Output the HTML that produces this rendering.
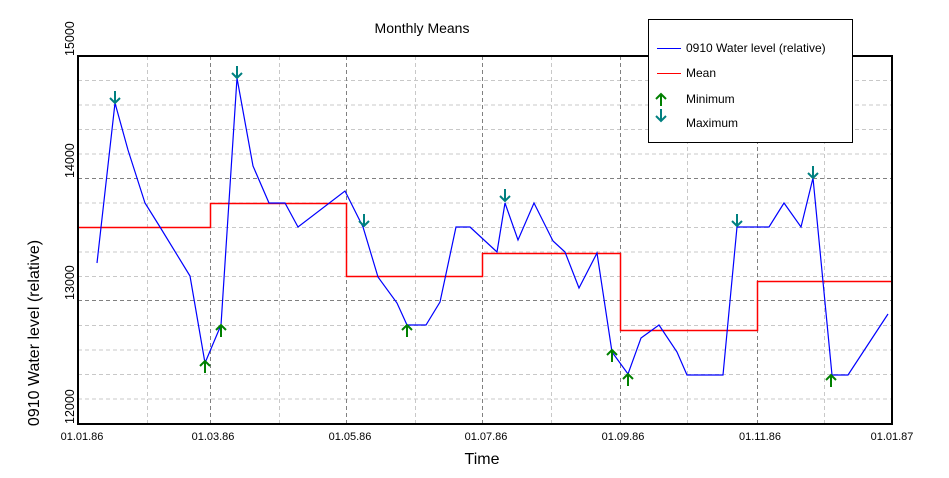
<!DOCTYPE html>
<html><head><style>
body{margin:0;background:#fff}
svg{display:block;font-family:"Liberation Sans",sans-serif}
</style></head><body>
<svg width="949" height="478" viewBox="0 0 949 478" xmlns="http://www.w3.org/2000/svg">
<defs>
<g id="up"><path d="M0,0 L0,12 M-5,5 L0,0 L5,5" fill="none" stroke="#008000" stroke-width="2"/></g>
<g id="dn"><path d="M0,0 L0,-12 M-5,-5 L0,0 L5,-5" fill="none" stroke="#008080" stroke-width="2"/></g>
</defs>
<rect width="949" height="478" fill="#fff"/>
<g stroke="#c8c8c8" stroke-dasharray="4,3" stroke-width="1">
<path d="M78,80.5H892M78,105H892M78,129.5H892M78,154H892M78,203H892M78,227.5H892M78,252H892M78,276.5H892M78,325.5H892M78,350H892M78,374.5H892M78,399H892"/>
<path d="M147.5,56V424M279.5,56V424M415.5,56V424M551.5,56V424M687.5,56V424M824.5,56V424"/>
</g>
<g stroke="#808080" stroke-dasharray="4,3" stroke-width="1">
<path d="M78,178.5H892M78,300.5H892"/>
<path d="M210.5,56V424M346.5,56V424M482.5,56V424M620.5,56V424M757.5,56V424"/>
</g>
<path d="M78,227.5H210.5V203.5H346.5V276.5H482.5V253.5H620.5V330.5H757.5V281.5H892" fill="none" stroke="#ff0000" stroke-width="1.5"/>
<polyline fill="none" stroke="#0000ff" stroke-width="1.2" points="97,263 115,103 128,150 145,203 160,227 190,276 205,363 221,325 237,78 253,166 269,203 285,203 298,227 345,191 363,227 378,277 397,303 407,325 426,325 440,302 456,227 470,227 497,252 505,203 518,240 534,203 553,241 565,252 579,288 597,253 612,352 628,374 641,338 659,325 677,352 687,375 723,375 737,227 769,227 784,203 801,227 813,178 832,375 848,375 888,314"/>
<use href="#dn" x="115" y="103"/><use href="#dn" x="237" y="78"/><use href="#dn" x="364" y="226"/>
<use href="#dn" x="505" y="201"/><use href="#dn" x="737" y="226"/><use href="#dn" x="813" y="178"/>
<use href="#up" x="205" y="361"/><use href="#up" x="221" y="325"/><use href="#up" x="407" y="325"/>
<use href="#up" x="612" y="350"/><use href="#up" x="628" y="374"/><use href="#up" x="831" y="375"/>
<rect x="78" y="56" width="814" height="368" fill="none" stroke="#000" stroke-width="2"/>
<text x="422" y="33" font-size="14" text-anchor="middle">Monthly Means</text>
<g font-size="11" text-anchor="middle">
<text x="82" y="440">01.01.86</text><text x="213" y="440">01.03.86</text><text x="350" y="440">01.05.86</text>
<text x="486" y="440">01.07.86</text><text x="623" y="440">01.09.86</text><text x="760" y="440">01.11.86</text>
<text x="892" y="440">01.01.87</text>
</g>
<g font-size="12.5" text-anchor="start">
<text transform="translate(74,56) rotate(-90)">15000</text>
<text transform="translate(74,178) rotate(-90)">14000</text>
<text transform="translate(74,300) rotate(-90)">13000</text>
<text transform="translate(74,424) rotate(-90)">12000</text>
</g>
<text transform="translate(39,333) rotate(-90)" font-size="16" text-anchor="middle">0910 Water level (relative)</text>
<text x="482" y="464" font-size="16" text-anchor="middle">Time</text>
<rect x="648.5" y="19.5" width="204" height="123" fill="#fff" stroke="#000" stroke-width="1"/>
<path d="M657,48.5H681" stroke="#0000ff"/>
<path d="M657,73.5H681" stroke="#ff0000"/>
<use href="#up" x="661" y="94"/><use href="#dn" x="661" y="121"/>
<g font-size="12">
<text x="686" y="52">0910 Water level (relative)</text>
<text x="686" y="77">Mean</text>
<text x="686" y="103">Minimum</text>
<text x="686" y="127">Maximum</text>
</g>
</svg>
</body></html>
